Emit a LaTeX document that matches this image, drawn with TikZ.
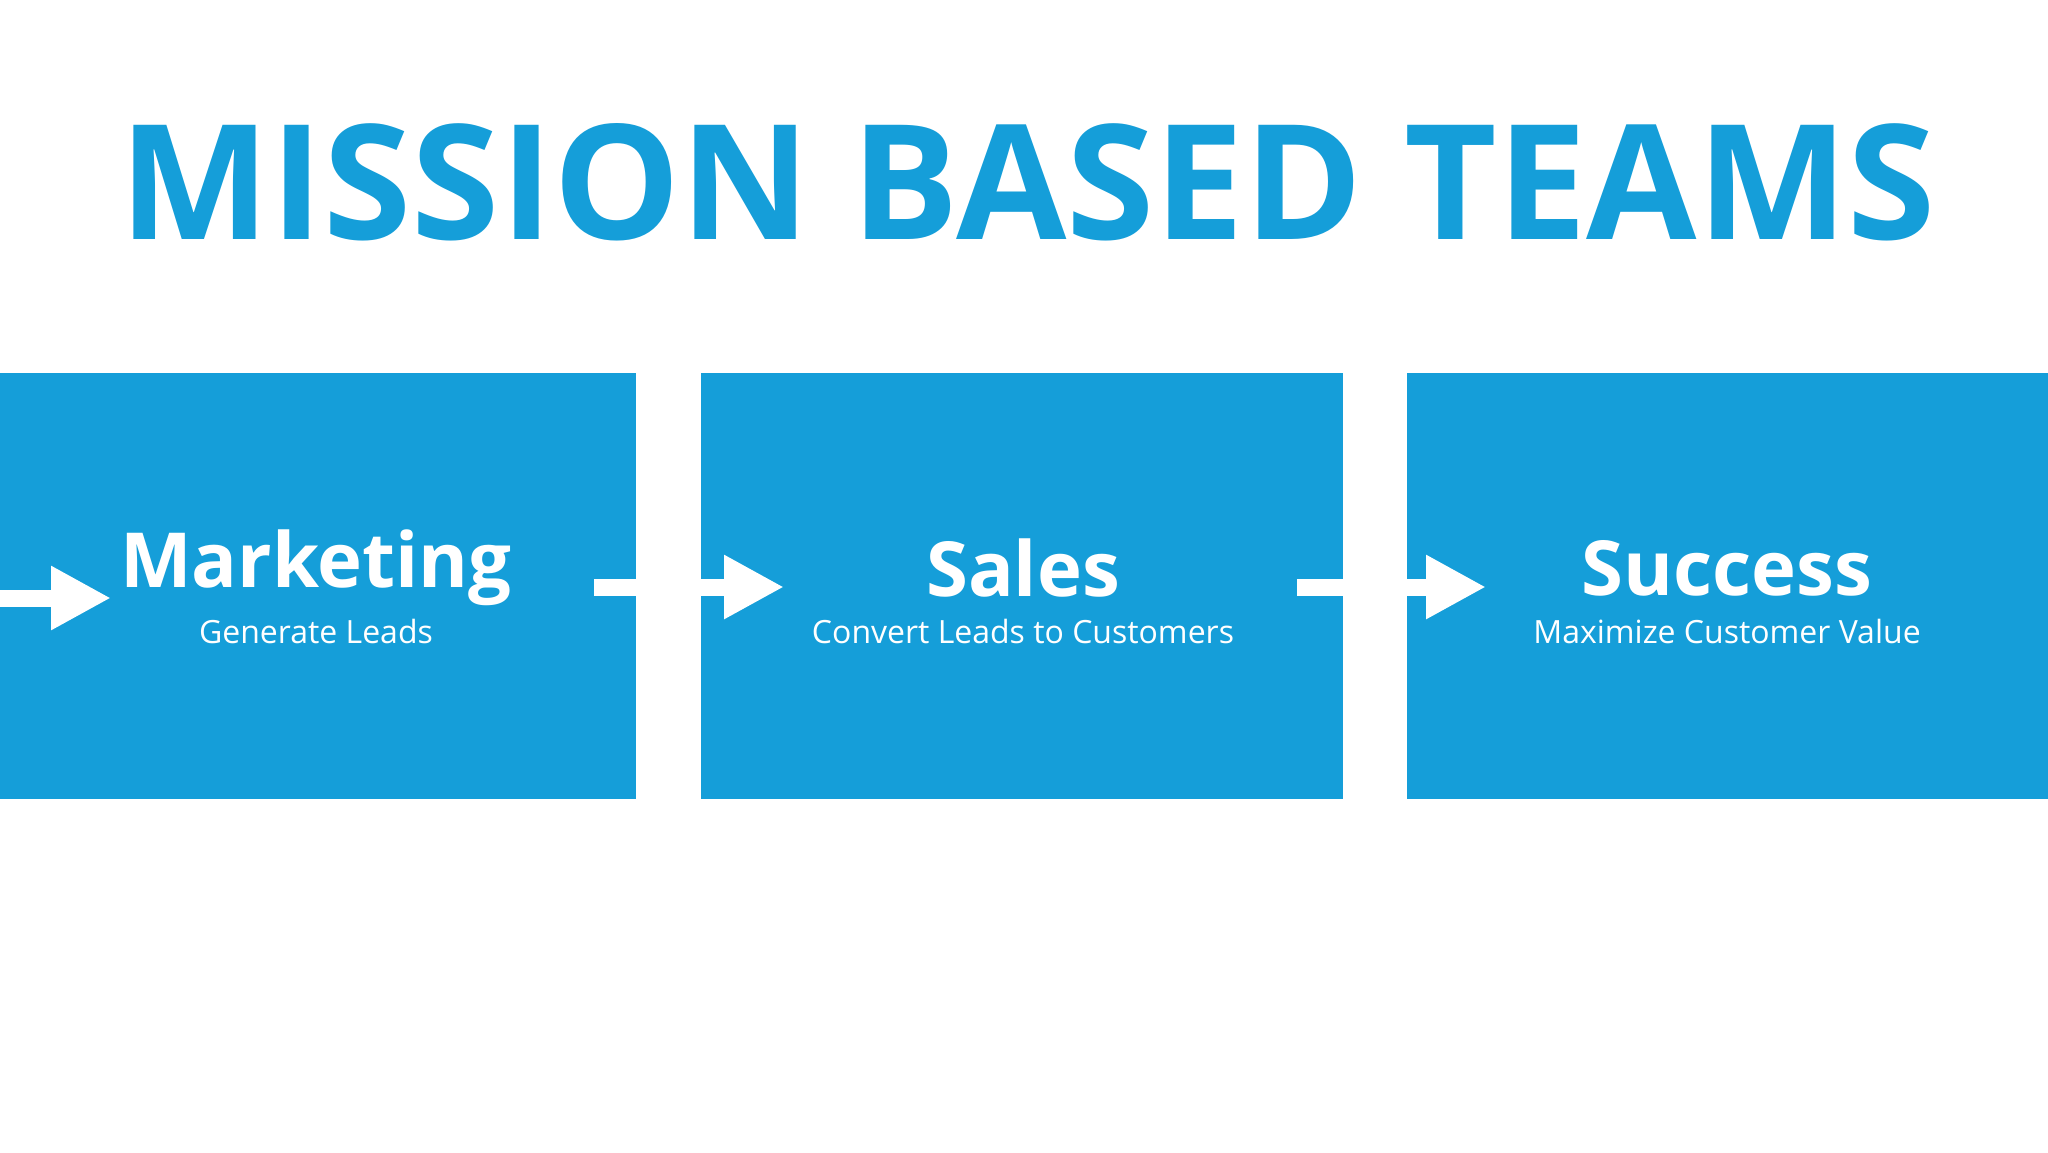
\documentclass[tikz,border=0pt]{standalone}
\usepackage{fontspec}
\setmainfont{Open Sans}
\usetikzlibrary{arrows.meta}
\definecolor{mblue}{HTML}{159ED9}
\tikzset{
  panel/.style={fill=mblue,draw=none},
  head/.style={text=white,font=\bfseries\fontsize{38}{44}\selectfont,anchor=center},
  sub/.style={text=white,font=\fontsize{16}{20}\selectfont,anchor=center},
  flow/.style={white,line width=8.5pt,-{Triangle[length=30pt,width=30pt]}}
}
\begin{document}
\begin{tikzpicture}[x=0.5pt,y=-0.5pt]
\useasboundingbox (0,0) rectangle (2048,1152);
\fill[white] (0,0) rectangle (2048,1152);
\node[text=mblue,font=\bfseries\fontsize{80}{90}\selectfont] (title) at (1028,182) {MISSION BASED TEAMS};
\fill[panel] (0,373) rectangle (636,799);
\fill[panel] (701,373) rectangle (1343,799);
\fill[panel] (1407,373) rectangle (2048,799);
\node[head] (m) at (316,568) {Marketing};
\node[sub] (ms) at (316,631) {Generate Leads};
\node[head] (s) at (1023,568) {Sales};
\node[sub] (ss) at (1023,631) {Convert Leads to Customers};
\node[head] (c) at (1727,568) {Success};
\node[sub] (cs) at (1727,631) {Maximize Customer Value};
\coordinate (a0) at (0,598); \coordinate (a0e) at (111,598);
\coordinate (a1) at (594,587); \coordinate (a1e) at (784,587);
\coordinate (a2) at (1297,587); \coordinate (a2e) at (1486,587);
\draw[flow] (a0) -- (a0e);
\draw[flow] (a1) -- (a1e);
\draw[flow] (a2) -- (a2e);
\end{tikzpicture}
\end{document}
